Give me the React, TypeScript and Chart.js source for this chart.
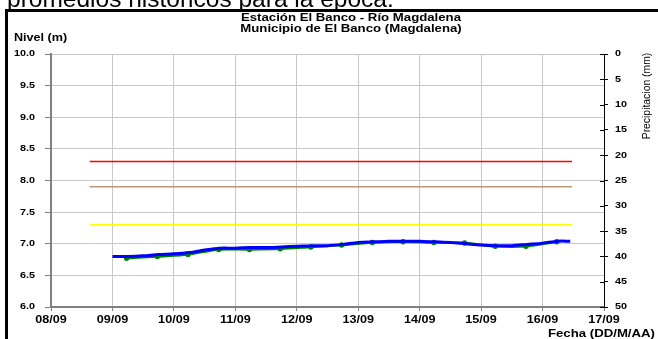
import React, { useEffect, useRef } from "react";
import { Chart, registerables } from "chart.js";

Chart.register(...registerables);

// Tick labels on the date axis (days counted from 08/09)
const dateLabels = ["08/09", "09/09", "10/09", "11/09", "12/09", "13/09", "14/09", "15/09", "16/09", "17/09"];

// Observed level (blue), times in days since 08/09 00:00
const blueDays = [1.0, 1.25, 1.5, 1.75, 2.0, 2.25, 2.5, 2.75, 3.0, 3.25, 3.5, 3.75, 4.0, 4.25, 4.5, 4.75, 5.0, 5.25, 5.5, 5.75, 6.0, 6.25, 6.5, 6.75, 7.0, 7.25, 7.5, 7.75, 8.0, 8.25, 8.45];
const blueLevels = [6.80, 6.80, 6.81, 6.83, 6.84, 6.86, 6.90, 6.93, 6.93, 6.94, 6.94, 6.95, 6.96, 6.97, 6.97, 6.99, 7.02, 7.03, 7.04, 7.04, 7.04, 7.03, 7.02, 7.00, 6.98, 6.97, 6.97, 6.99, 7.01, 7.04, 7.04];

// Twice-daily readings (green)
const greenDays = [1.23, 1.73, 2.23, 2.73, 3.23, 3.73, 4.23, 4.73, 5.23, 5.73, 6.23, 6.73, 7.23, 7.73, 8.23];
const greenLevels = [6.77, 6.80, 6.83, 6.91, 6.91, 6.92, 6.95, 6.98, 7.02, 7.03, 7.02, 7.01, 6.96, 6.96, 7.03];

// Alert thresholds (m)
const thresholdLevels = [8.3, 7.9, 7.3];
const thresholdColors = ["#ff0000", "#b8997a", "#ffff00"];
const thresholdFrom = 0.63;
const thresholdTo = 8.48;

const levelTicks = [6.0, 6.5, 7.0, 7.5, 8.0, 8.5, 9.0, 9.5, 10.0];
const rainTicks = [0, 5, 10, 15, 20, 25, 30, 35, 40, 45, 50];

const FONT = "Arial, 'Liberation Sans', sans-serif";
const SX = 1.2; // horizontal stretch of the original picture's text

function stretchText(ctx: any, text: string, x: number, y: number, align: string, font: string, sx = SX) {
  ctx.save();
  ctx.font = font;
  ctx.textAlign = "left";
  ctx.textBaseline = "middle";
  const w = ctx.measureText(text).width * sx;
  const left = align === "center" ? x - w / 2 : align === "right" ? x - w : x;
  ctx.translate(left, y);
  ctx.scale(sx, 1);
  ctx.fillText(text, 0, 0);
  ctx.restore();
}

const decorPlugin = {
  id: "decor",
  beforeDraw(chart: any) {
    const ctx = chart.ctx;
    ctx.save();
    ctx.fillStyle = "#ffffff";
    ctx.fillRect(0, 0, chart.width, chart.height);
    ctx.restore();
  },
  afterDraw(chart: any) {
    const ctx = chart.ctx;
    const area = chart.chartArea;
    ctx.save();
    ctx.fillStyle = "#000000";
    // frame
    ctx.strokeStyle = "#000000";
    ctx.lineWidth = 3;
    ctx.beginPath();
    ctx.moveTo(6.5, 400);
    ctx.lineTo(6.5, 10.5);
    ctx.lineTo(700, 10.5);
    ctx.stroke();
    // cut-off text above the frame
    ctx.font = "24.5px " + FONT;
    ctx.textAlign = "left";
    ctx.textBaseline = "alphabetic";
    ctx.fillText("promedios historicos para la época.", 7, 7.3);
    // titles
    stretchText(ctx, "Estación El Banco - Río Magdalena", 351, 18, "center", "bold 11px " + FONT);
    stretchText(ctx, "Municipio de El Banco (Magdalena)", 351, 29, "center", "bold 11px " + FONT);
    stretchText(ctx, "Nivel (m)", 14, 38, "left", "bold 10.5px " + FONT);
    stretchText(ctx, "Fecha (DD/M/AA)", 655, 334, "right", "bold 11px " + FONT);
    // tick labels (positions from the chart's scales)
    const xs = chart.scales.x;
    xs.ticks.forEach((t: any) => {
      stretchText(ctx, dateLabels[Math.round(t.value)], xs.getPixelForValue(t.value), 320.5, "center", "bold 10.5px " + FONT);
    });
    const ys = chart.scales.y;
    ys.ticks.forEach((t: any) => {
      stretchText(ctx, Number(t.value).toFixed(1), 35, ys.getPixelForValue(t.value), "right", "bold 9px " + FONT);
    });
    const y2 = chart.scales.y2;
    y2.ticks.forEach((t: any) => {
      stretchText(ctx, String(t.value), 615, y2.getPixelForValue(t.value), "left", "bold 9px " + FONT);
    });
    // right axis title
    ctx.save();
    ctx.translate(647, 96);
    ctx.rotate(-Math.PI / 2);
    ctx.textAlign = "center";
    ctx.textBaseline = "middle";
    ctx.font = "10.4px " + FONT;
    ctx.fillText("Precipitacion (mm)", 0, 0);
    ctx.restore();
    // inner ticks on right axis
    ctx.strokeStyle = "#000000";
    ctx.lineWidth = 1;
    rainTicks.forEach((t) => {
      const py = Math.round(y2.getPixelForValue(t)) + 0.5;
      ctx.beginPath();
      ctx.moveTo(area.right - 4, py);
      ctx.lineTo(area.right, py);
      ctx.stroke();
    });
    ctx.restore();
  },
};

export default function App() {
  const ref = useRef<HTMLCanvasElement | null>(null);

  useEffect(() => {
    document.body.style.margin = "0";
    if (!ref.current) return;
    const datasets: any[] = thresholdLevels.map((lvl, i) => ({
      data: [
        { x: thresholdFrom, y: lvl },
        { x: thresholdTo, y: lvl },
      ],
      borderColor: thresholdColors[i],
      borderWidth: 1.5,
      pointRadius: 0,
      yAxisID: "y",
    }));
    datasets.push({
      data: blueDays.map((d, i) => ({ x: d, y: blueLevels[i] })),
      borderColor: "#0000ff",
      borderWidth: 3,
      pointRadius: 0,
      tension: 0.3,
      yAxisID: "y",
    });
    datasets.push({
      data: greenDays.map((d, i) => ({ x: d, y: greenLevels[i] })),
      borderColor: "#008000",
      backgroundColor: "#008000",
      borderWidth: 2.5,
      pointRadius: 1.5,
      pointStyle: "circle",
      tension: 0.3,
      yAxisID: "y",
    });

    const hidden = "rgba(0,0,0,0)";
    const chart = new Chart(ref.current, {
      type: "line",
      data: { datasets },
      plugins: [decorPlugin],
      options: {
        animation: false,
        responsive: false,
        maintainAspectRatio: false,
        layout: { padding: { top: 54, left: 0, right: 0, bottom: 0 } },
        plugins: { legend: { display: false }, tooltip: { enabled: false } },
        scales: {
          x: {
            type: "linear",
            min: 0,
            max: 9,
            afterBuildTicks: (s: any) => {
              s.ticks = dateLabels.map((_, i) => ({ value: i }));
            },
            afterFit: (s: any) => {
              s.height = 32;
            },
            ticks: {
              callback: (v: any) => dateLabels[Math.round(v)] ?? "",
              color: hidden,
              font: { family: FONT, size: 10, weight: "bold" },
              padding: 3,
              maxRotation: 0,
              autoSkip: false,
            },
            grid: { color: "#c8c8c8", lineWidth: 1, tickLength: 4, tickColor: "#808080" },
            border: { color: "#808080", width: 2 },
          },
          y: {
            position: "left",
            min: 6,
            max: 10,
            afterBuildTicks: (s: any) => {
              s.ticks = levelTicks.map((v) => ({ value: v }));
            },
            afterFit: (s: any) => {
              s.width = 51;
            },
            ticks: {
              callback: (v: any) => Number(v).toFixed(1),
              color: hidden,
              font: { family: FONT, size: 9, weight: "bold" },
              padding: 9,
            },
            grid: { color: "#c8c8c8", lineWidth: 1, tickLength: 6, tickColor: "#808080" },
            border: { color: "#808080", width: 2 },
          },
          y2: {
            position: "right",
            min: 0,
            max: 50,
            reverse: true,
            afterBuildTicks: (s: any) => {
              s.ticks = rainTicks.map((v) => ({ value: v }));
            },
            afterFit: (s: any) => {
              s.width = 54;
            },
            ticks: {
              color: hidden,
              font: { family: FONT, size: 9, weight: "bold" },
              padding: 7,
            },
            grid: { drawOnChartArea: false, tickLength: 4, tickColor: "#000000" },
            border: { color: "#000000", width: 1 },
          },
        },
      },
    } as any);
    return () => chart.destroy();
  }, []);

  return (
    <div style={{ position: "fixed", left: 0, top: 0, width: 658, height: 339 }}>
      <canvas ref={ref} width={658} height={339} style={{ width: 658, height: 339 }} />
    </div>
  );
}
